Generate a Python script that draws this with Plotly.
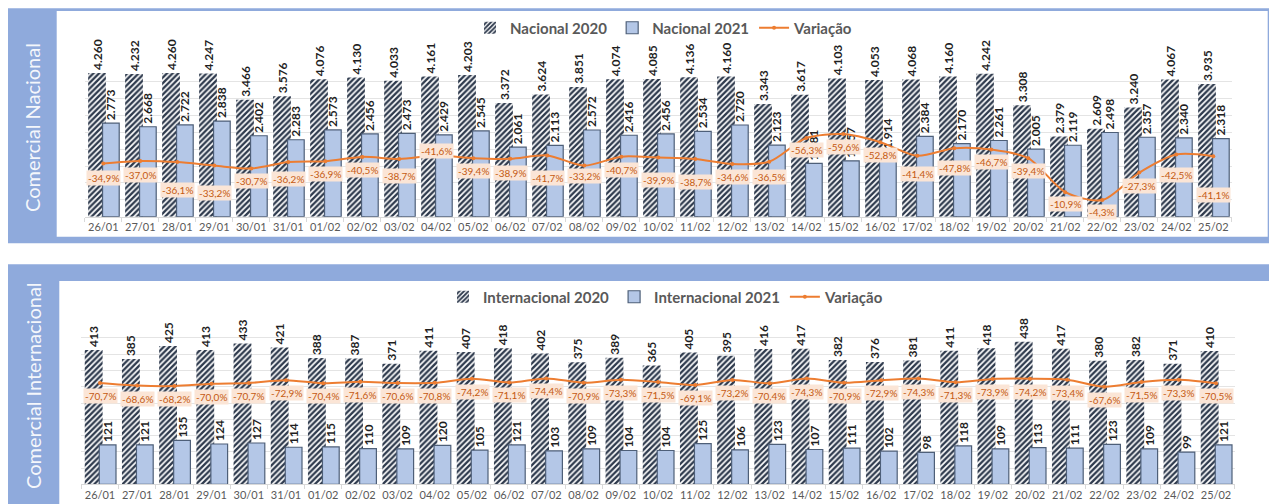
import plotly.graph_objects as go

# ---------------- data ----------------
dates = ["26/01", "27/01", "28/01", "29/01", "30/01", "31/01",
         "01/02", "02/02", "03/02", "04/02", "05/02", "06/02", "07/02", "08/02", "09/02",
         "10/02", "11/02", "12/02", "13/02", "14/02", "15/02", "16/02", "17/02", "18/02",
         "19/02", "20/02", "21/02", "22/02", "23/02", "24/02", "25/02"]

nacional_2020 = [4260, 4232, 4260, 4247, 3466, 3576, 4076, 4130, 4033, 4161, 4203, 3372, 3624,
                 3851, 4074, 4085, 4136, 4160, 3343, 3617, 4103, 4053, 4068, 4160, 4242, 3308,
                 2379, 2609, 3240, 4067, 3935]
nacional_2021 = [2773, 2668, 2722, 2838, 2402, 2283, 2573, 2456, 2473, 2429, 2545, 2061, 2113,
                 2572, 2416, 2456, 2534, 2720, 2123, 1581, 1657, 1914, 2384, 2170, 2261, 2005,
                 2119, 2498, 2357, 2340, 2318]
variacao_nac = [-34.9, -37.0, -36.1, -33.2, -30.7, -36.2, -36.9, -40.5, -38.7, -41.6, -39.4,
                -38.9, -41.7, -33.2, -40.7, -39.9, -38.7, -34.6, -36.5, -56.3, -59.6, -52.8,
                -41.4, -47.8, -46.7, -39.4, -10.9, -4.3, -27.3, -42.5, -41.1]

internacional_2020 = [413, 385, 425, 413, 433, 421, 388, 387, 371, 411, 407, 418, 402, 375, 389,
                      365, 405, 395, 416, 417, 382, 376, 381, 411, 418, 438, 417, 380, 382, 371, 410]
internacional_2021 = [121, 121, 135, 124, 127, 114, 115, 110, 109, 120, 105, 121, 103, 109, 104,
                      104, 125, 106, 123, 107, 111, 102, 98, 118, 109, 113, 111, 123, 109, 99, 121]
variacao_int = [-70.7, -68.6, -68.2, -70.0, -70.7, -72.9, -70.4, -71.6, -70.6, -70.8, -74.2,
                -71.1, -74.4, -70.9, -73.3, -71.5, -69.1, -73.2, -70.4, -74.3, -70.9, -72.9,
                -74.3, -71.3, -73.9, -74.2, -73.4, -67.6, -71.5, -73.3, -70.5]

# label placement (style): pixels below the line point for the top variation labels
nac_label_drop = [14, 14, 28, 27, 12, 17, 13, 13, 17, -5, 13, 14, 23, 10, 13, 22, 23, 13, 15,
                  12, 13, 13, 18, 20, 13, 13, 12, 12, 13, 21, 39]
int_label_drop = 13

# ---------------- styles ----------------
OFF = 8  # page body margin
W, H = 1277 - OFF, 504 - OFF
FRAME = "#8FAADC"
HATCH = "#2E3A4D"
BLUE = "#B4C7E7"
BLUE_LINE = "#4E5F78"
ORANGE = "#ED7D31"
LBL_BG = "#FBE5D6"
LBL_FG = "#C55A11"
GRID = "#E4E4E4"
AXIS = "#D9D9D9"
TXT = "#595959"
FONT = "Lato"


def px(x):
    return (x - OFF) / W


def py(y):
    return 1 - (y - OFF) / H


def thousands(v):
    return f"{v:,}".replace(",", ".")


def pct(v):
    return f"{v:.1f}%".replace(".", ",")


fig = go.Figure()


def add_panel(xa, ya, ya2, v20, v21, var, n20, n21, legend):
    tf = dict(family=FONT, size=12, color="#1F1F1F", weight="bold")
    fig.add_trace(go.Bar(
        x=dates, y=v20, name=n20, xaxis=xa, yaxis=ya, legend=legend,
        offset=-0.41, width=0.48,
        marker=dict(color=HATCH, line=dict(width=0),
                    pattern=dict(shape="/", fgcolor=HATCH, bgcolor="white", size=4,
                                 solidity=0.58, fgopacity=1)),
        text=[thousands(v) for v in v20], textposition="outside", textangle=-90,
        textfont=tf, cliponaxis=False, constraintext="none",
    ))
    fig.add_trace(go.Bar(
        x=dates, y=v21, name=n21, xaxis=xa, yaxis=ya, legend=legend,
        offset=-0.02, width=0.45,
        marker=dict(color=BLUE, line=dict(width=1.2, color=BLUE_LINE)),
        text=[thousands(v) for v in v21], textposition="outside", textangle=-90,
        textfont=tf, cliponaxis=False, constraintext="none",
    ))
    fig.add_trace(go.Scatter(
        x=dates, y=var, name="Variação", xaxis=xa, yaxis=ya2, legend=legend,
        mode="lines+markers", line=dict(color=ORANGE, width=2, shape="spline", smoothing=0.8),
        marker=dict(size=4, color=ORANGE), cliponaxis=False,
    ))


add_panel("x", "y", "y2", nacional_2020, nacional_2021, variacao_nac,
          "Nacional 2020", "Nacional 2021", "legend")
add_panel("x2", "y3", "y4", internacional_2020, internacional_2021, variacao_int,
          "Internacional 2020", "Internacional 2021", "legend2")

annotations = []
for d, v, off in zip(dates, variacao_nac, nac_label_drop):
    annotations.append(dict(x=d, y=v, xref="x", yref="y2", yshift=-off, showarrow=False,
                            text=pct(v), bgcolor=LBL_BG, borderpad=1,
                            font=dict(family=FONT, size=10, color=LBL_FG)))
for d, v in zip(dates, variacao_int):
    annotations.append(dict(x=d, y=v, xref="x2", yref="y4", yshift=-int_label_drop, showarrow=False,
                            text=pct(v), bgcolor=LBL_BG, borderpad=1,
                            font=dict(family=FONT, size=10, color=LBL_FG)))

# side titles
annotations.append(dict(x=px(32), y=py(128), xref="paper", yref="paper", showarrow=False,
                        xanchor="center", yanchor="middle",
                        text="Comercial Nacional", textangle=-90,
                        font=dict(family=FONT, size=20, color="rgba(255,255,255,0.92)")))
annotations.append(dict(x=px(33), y=py(386), xref="paper", yref="paper", showarrow=False,
                        xanchor="center", yanchor="middle",
                        text="Comercial Internacional", textangle=-90,
                        font=dict(family=FONT, size=20, color="rgba(255,255,255,0.92)")))

shapes = [
    dict(type="rect", xref="paper", yref="paper", x0=px(5), x1=px(1273.3), y0=py(243.3), y1=py(8.3),
         fillcolor=FRAME, line=dict(width=0), layer="below"),
    dict(type="rect", xref="paper", yref="paper", x0=px(56.7), x1=px(1267.7), y0=py(236.7), y1=py(11),
         fillcolor="white", line=dict(width=0), layer="below"),
    dict(type="rect", xref="paper", yref="paper", x0=px(5), x1=px(1290), y0=py(520), y1=py(264.3),
         fillcolor=FRAME, line=dict(width=0), layer="below"),
    dict(type="rect", xref="paper", yref="paper", x0=px(59.3), x1=px(1270), y0=py(520), y1=py(281),
         fillcolor="white", line=dict(width=0), layer="below"),
]

xcommon = dict(type="category", tickson="boundaries", ticks="outside", ticklen=4, tickcolor=AXIS,
               showline=True, linecolor=AXIS, linewidth=1, showgrid=False, automargin=False,
               range=[-0.5, len(dates) - 0.5],
               tickfont=dict(family=FONT, size=11, color=TXT), tickangle=0)
ycommon = dict(showticklabels=False, gridcolor=GRID, gridwidth=1, zeroline=False, showline=False,
               ticks="", automargin=False)

legend_font = dict(family=FONT, size=15, color=TXT, weight="bold")

fig.update_layout(
    width=W, height=H, margin=dict(l=0, r=0, t=0, b=0, autoexpand=False),
    paper_bgcolor="white", plot_bgcolor="rgba(0,0,0,0)",
    barmode="overlay", showlegend=True,
    font=dict(family=FONT, color=TXT),
    xaxis=dict(domain=[px(84.8), px(1231.8)], anchor="y", **xcommon),
    yaxis=dict(domain=[py(216.7), py(65)], range=[0, 4500], dtick=500, **ycommon),
    yaxis2=dict(overlaying="y", anchor="x", range=[9.7, -117.6], visible=False, showgrid=False),
    xaxis2=dict(domain=[px(81.4), px(1234.6)], anchor="y3", **xcommon),
    yaxis3=dict(domain=[py(484.3), py(321.7)], range=[0, 500], dtick=50, **ycommon),
    yaxis4=dict(overlaying="y3", anchor="x2", range=[11.3, -120.3], visible=False, showgrid=False),
    legend=dict(orientation="h", x=px(664), y=py(28), xanchor="center", yanchor="middle",
                font=legend_font, bgcolor="rgba(0,0,0,0)",
                itemwidth=30, traceorder="normal"),
    legend2=dict(orientation="h", x=px(666), y=py(297), xanchor="center", yanchor="middle",
                 font=legend_font, bgcolor="rgba(0,0,0,0)",
                 itemwidth=30, traceorder="normal"),
    annotations=annotations, shapes=shapes,
)

fig.write_html("out.html")
